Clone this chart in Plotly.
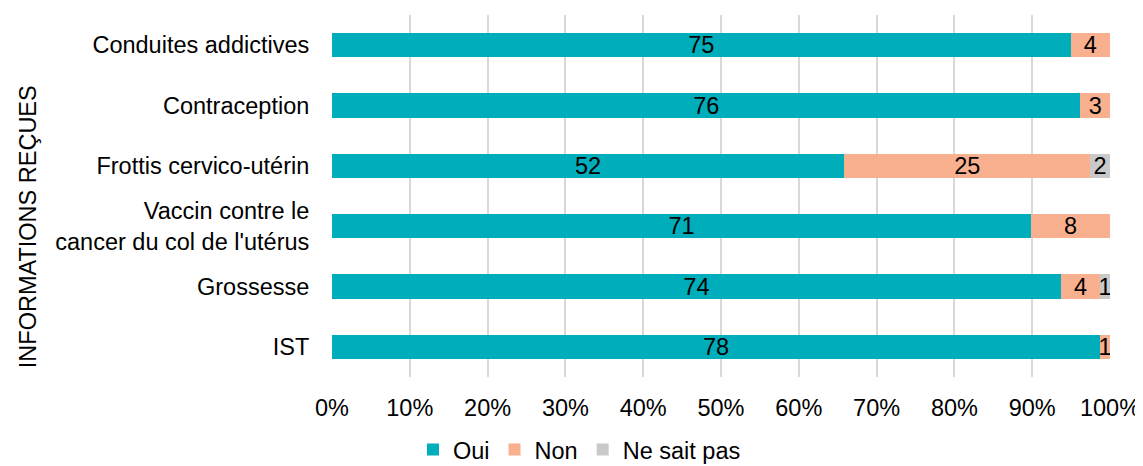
import plotly.graph_objects as go

categories = ["Conduites addictives", "Contraception", "Frottis cervico-utérin",
              "Vaccin contre le<br>cancer du col de l'utérus", "Grossesse", "IST"]
oui = [75, 76, 52, 71, 74, 78]
non = [4, 3, 25, 8, 4, 1]
nsp = [0, 0, 2, 0, 1, 0]
axis_title = "INFORMATIONS REÇUES"

series = [("Oui", oui, "#00AEBB"), ("Non", non, "#F9B08F"), ("Ne sait pas", nsp, "#C9C9C9")]
FS = 23.5
FONT = "Liberation Sans, Arial"

fig = go.Figure()
for name, vals, col in series:
    fig.add_trace(go.Bar(
        y=categories, x=vals, name=name, orientation="h",
        marker=dict(color=col, line=dict(width=0)),
        text=[str(v) if v else "" for v in vals],
        textposition="inside", insidetextanchor="middle", textangle=0,
        textfont=dict(color="black", size=FS, family=FONT),
    ))

fig.update_layout(
    barmode="stack", barnorm="percent", bargap=0.6,
    width=1135, height=466,
    margin=dict(l=324, r=33, t=7, b=97),
    paper_bgcolor="white", plot_bgcolor="white",
    font=dict(family=FONT, size=FS, color="black"),
    uniformtext=dict(minsize=FS, mode="show"),
    legend=dict(orientation="h", xref="container", yref="container",
                x=0.5035, xanchor="center", y=0.005, yanchor="bottom",
                font=dict(size=FS), traceorder="normal",
                itemwidth=30, tracegroupgap=0),
    showlegend=True,
    annotations=[dict(text=axis_title, textangle=-90, xref="paper", yref="paper",
                      x=-0.3907, y=0.414, xanchor="center", yanchor="middle",
                      showarrow=False, font=dict(size=FS))],
)
fig.update_xaxes(range=[0, 100], tickvals=list(range(0, 101, 10)),
                 ticktext=[f"{v}%" for v in range(0, 101, 10)],
                 showgrid=True, gridcolor="#D9D9D9", gridwidth=1.5,
                 zeroline=False, showline=False, automargin=False,
                 ticks="outside", ticklen=10, tickcolor="rgba(0,0,0,0)",
                 tickfont=dict(size=FS))
fig.update_yaxes(autorange="reversed", showgrid=False, showline=False, automargin=False,
                 ticks="outside", ticklen=17, tickcolor="rgba(0,0,0,0)",
                 tickfont=dict(size=FS))

fig.write_html("out.html")
